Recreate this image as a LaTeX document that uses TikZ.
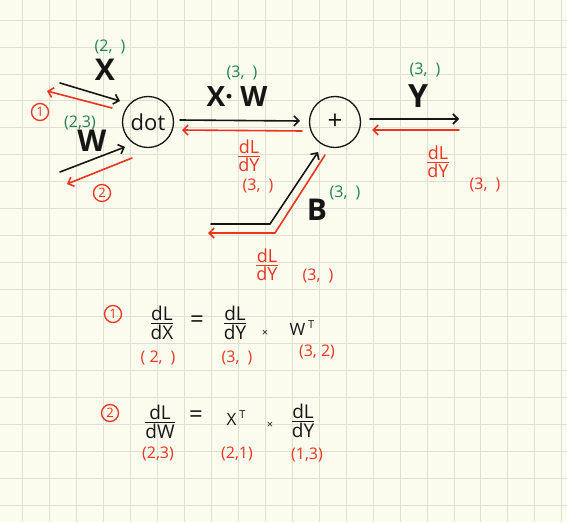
\documentclass[tikz,border=0pt]{standalone}
\usepackage{amsmath}
\usepackage{fontspec}
\setmainfont{Open Sans}
\usetikzlibrary{arrows.meta}
\definecolor{paper}{RGB}{252,252,238}
\definecolor{gridc}{RGB}{222,224,210}
\definecolor{pen}{RGB}{22,22,22}
\definecolor{redpen}{RGB}{236,52,30}
\definecolor{greenpen}{RGB}{35,128,82}
\newcommand\gfrac[2]{$\genfrac{}{}{1.2pt}{1}{\mbox{#1}}{\mbox{#2}}$}
\newcommand\fs[1]{\fontsize{#1}{#1}\selectfont}
\begin{document}
\begin{tikzpicture}[x=1pt,y=-1pt,
  gridline/.style={draw=gridc, line width=0.8pt},
  opnode/.style={circle, draw=pen, line width=1.3pt, minimum size=51pt, inner sep=0pt, text=pen},
  biglbl/.style={text=pen, font=\fs{30}\bfseries, inner sep=0pt},
  shapelbl/.style={text=greenpen, font=\fs{16}, inner sep=0pt},
  gradlbl/.style={text=redpen, font=\fs{18}, inner sep=0pt},
  eqtxt/.style={text=pen, font=\fs{19}, inner sep=0pt},
  eqdim/.style={text=redpen, font=\fs{16}, inner sep=0pt},
  fwd/.style={draw=pen, line width=1.6pt, line cap=round, line join=round, -{Straight Barb[length=5pt,width=10pt]}},
  bwd/.style={draw=redpen, line width=1.6pt, line cap=round, line join=round, -{Straight Barb[length=5pt,width=10pt]}},
  numnode/.style={circle, draw=redpen, text=redpen, line width=1.3pt, inner sep=0pt, minimum size=17pt, font=\fs{13}}
]
\fill[paper] (0,0) rectangle (567,522);
\useasboundingbox (0,0) rectangle (567,522);
\foreach \i in {0,...,20} \draw[gridline] ({22.7+26.95*\i},0) -- ({22.7+26.95*\i},522);
\foreach \i in {0,...,18} \draw[gridline] (0,{20+26.95*\i}) -- (567,{20+26.95*\i});

% operation nodes
\node[opnode, font=\fs{22}] (dot) at (148,122) {dot};
\node[opnode, font=\fs{26}] (plus) at (335,122) {+};

% coordinates for connector ends
\coordinate (xs) at (60,83);   \coordinate (xe) at (120,101);
\coordinate (xbs) at (112,108); \coordinate (xbe) at (47,91);
\coordinate (ws) at (60,172);  \coordinate (we) at (125,147);
\coordinate (wbs) at (132,158); \coordinate (wbe) at (67,184);
\coordinate (xws) at (180,120); \coordinate (xwe) at (300,121);
\coordinate (xwbs) at (302,131); \coordinate (xwbe) at (182,130);
\coordinate (ys) at (370,119); \coordinate (ye) at (459,119);
\coordinate (ybs) at (459,130); \coordinate (ybe) at (372,130);
\coordinate (bs) at (211,224); \coordinate (bk) at (270,224); \coordinate (be) at (318,152);
\coordinate (bbs) at (325,155); \coordinate (bbk) at (275,233); \coordinate (bbe) at (208,233);

% forward (black) and backward (red) arrows
\draw[fwd] (xs) -- (xe);
\draw[bwd] (xbs) -- (xbe);
\draw[fwd] (ws) -- (we);
\draw[bwd] (wbs) -- (wbe);
\draw[fwd] (xws) -- (xwe);
\draw[bwd] (xwbs) -- (xwbe);
\draw[fwd] (ys) -- (ye);
\draw[bwd] (ybs) -- (ybe);
\draw[fwd] (bs) -- (bk) -- (be);
\draw[bwd] (bbs) -- (bbk) -- (bbe);

% labels
\node[biglbl] (lx) at (105,70) {X};
\node[shapelbl] (sx) at (110,47) {(2,\enspace)};
\node[shapelbl] (sw) at (80,123) {(2,3)};
\node[biglbl] (lw) at (92,141) {W};
\node[numnode] (n1) at (40,112) {1};
\node[numnode] (n2) at (102,193) {2};

\node[biglbl, font=\fs{28}\bfseries] (lxw) at (237,97) {X· W};
\node[shapelbl] (sxw) at (242,73) {(3,\enspace)};
\node[gradlbl] (gxw) at (249,156) {\gfrac{dL}{dY}};
\node[gradlbl, font=\fs{16}] (dxw) at (258,186) {(3,\enspace)};

\node[biglbl, font=\fs{32}\bfseries] (ly) at (418,96) {Y};
\node[shapelbl] (sy) at (425,70) {(3,\enspace)};
\node[gradlbl] (gy) at (438,162) {\gfrac{dL}{dY}};
\node[gradlbl, font=\fs{16}] (dy) at (485,185) {(3,\enspace)};

\node[biglbl] (lb) at (317,210) {B};
\node[shapelbl] (sb) at (345,193) {(3,\enspace)};
\node[gradlbl] (gb) at (267,265) {\gfrac{dL}{dY}};
\node[gradlbl, font=\fs{16}] (db) at (318,276) {(3,\enspace)};

% equation 1
\node[numnode] (e1) at (113,314) {1};
\node[eqtxt] (e1a) at (162,323) {\gfrac{dL}{dX}};
\node[eqtxt, font=\fs{24}] (e1eq) at (197,322) {=};
\node[eqtxt] (e1b) at (235,323) {\gfrac{dL}{dY}};
\node[eqtxt, font=\fs{11}] (e1x) at (265,333) {×};
\node[eqtxt, font=\fs{17}] (e1c) at (302,328) {W\,\raisebox{7pt}{\fs{11}T}};
\node[eqdim] (e1da) at (158,358) {( 2,\enspace)};
\node[eqdim] (e1db) at (237,358) {(3,\enspace)};
\node[eqdim] (e1dc) at (317,352) {(3, 2)};

% equation 2
\node[numnode] (e2) at (110,413) {2};
\node[eqtxt] (e2a) at (160,422) {\gfrac{dL}{dW}};
\node[eqtxt, font=\fs{24}] (e2eq) at (196,417) {=};
\node[eqtxt, font=\fs{17}] (e2b) at (236,418) {X\,\raisebox{7pt}{\fs{11}T}};
\node[eqtxt, font=\fs{11}] (e2x) at (270,425) {×};
\node[eqtxt] (e2c) at (303,421) {\gfrac{dL}{dY}};
\node[eqdim] (e2da) at (158,454) {(2,3)};
\node[eqdim] (e2db) at (237,454) {(2,1)};
\node[eqdim] (e2dc) at (307,455) {(1,3)};
\end{tikzpicture}
\end{document}
